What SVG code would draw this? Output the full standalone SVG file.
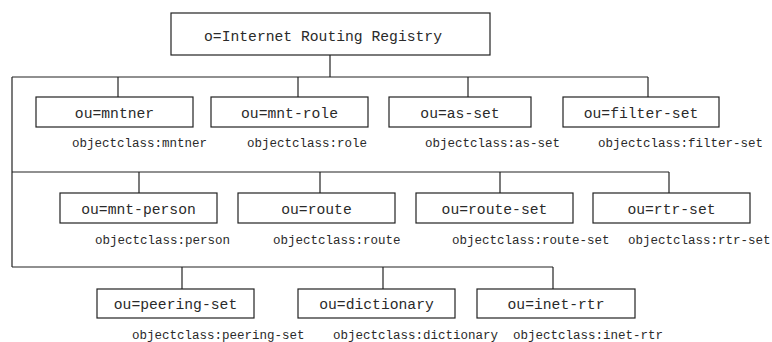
<svg xmlns="http://www.w3.org/2000/svg" width="772" height="342" viewBox="0 0 772 342">
<style>
rect{fill:#fff;stroke:#222;stroke-width:1.2}
.c line,.c polyline{stroke:#222;stroke-width:1.2;fill:none}
.t{font-family:"Liberation Mono","Courier New",monospace;font-size:14.7px;fill:#2a2a2a;text-anchor:middle}
.l{font-family:"Liberation Mono","Courier New",monospace;font-size:12.5px;fill:#2a2a2a}
</style>
<rect x="0" y="0" width="772" height="342" style="stroke:none"/>
<g class="c" id="connectors">
<line x1="330" y1="55" x2="330" y2="77"/>
<line x1="12" y1="77" x2="648" y2="77"/>
<line x1="12" y1="77" x2="12" y2="267"/>
<line x1="118" y1="77" x2="118" y2="97"/>
<line x1="298" y1="77" x2="298" y2="97"/>
<line x1="468" y1="77" x2="468" y2="97"/>
<line x1="648" y1="77" x2="648" y2="97"/>
<line x1="12" y1="172" x2="669" y2="172"/>
<line x1="139" y1="172" x2="139" y2="193"/>
<line x1="320" y1="172" x2="320" y2="193"/>
<line x1="500" y1="172" x2="500" y2="193"/>
<line x1="669" y1="172" x2="669" y2="193"/>
<line x1="12" y1="267" x2="553" y2="267"/>
<line x1="182" y1="267" x2="182" y2="289"/>
<line x1="383" y1="267" x2="383" y2="289"/>
<line x1="553" y1="267" x2="553" y2="289"/>
</g>
<g id="root"><rect x="171" y="13" width="319" height="42"/><text class="t" x="323" y="41">o=Internet Routing Registry</text></g>
<g id="mntner"><rect x="36" y="97" width="157" height="30"/><text class="t" x="114.5" y="117.5">ou=mntner</text><text class="l" x="72" y="147">objectclass:mntner</text></g>
<g id="mnt-role"><rect x="211" y="97" width="157" height="30"/><text class="t" x="289.5" y="117.5">ou=mnt-role</text><text class="l" x="247" y="147">objectclass:role</text></g>
<g id="as-set"><rect x="389" y="97" width="142" height="30"/><text class="t" x="460" y="117.5">ou=as-set</text><text class="l" x="425" y="147">objectclass:as-set</text></g>
<g id="filter-set"><rect x="563" y="97" width="156" height="30"/><text class="t" x="641" y="117.5">ou=filter-set</text><text class="l" x="598" y="147">objectclass:filter-set</text></g>
<g id="mnt-person"><rect x="60" y="193" width="157" height="30"/><text class="t" x="138.5" y="213.5">ou=mnt-person</text><text class="l" x="95" y="244">objectclass:person</text></g>
<g id="route"><rect x="238" y="193" width="157" height="30"/><text class="t" x="316.5" y="213.5">ou=route</text><text class="l" x="273" y="244">objectclass:route</text></g>
<g id="route-set"><rect x="416" y="193" width="157" height="30"/><text class="t" x="494.5" y="213.5">ou=route-set</text><text class="l" x="452" y="244">objectclass:route-set</text></g>
<g id="rtr-set"><rect x="593" y="193" width="157" height="30"/><text class="t" x="671.5" y="213.5">ou=rtr-set</text><text class="l" x="628" y="244">objectclass:rtr-set</text></g>
<g id="peering-set"><rect x="97" y="289" width="157" height="29"/><text class="t" x="175.5" y="309">ou=peering-set</text><text class="l" x="132" y="339">objectclass:peering-set</text></g>
<g id="dictionary"><rect x="298" y="289" width="157" height="29"/><text class="t" x="376.5" y="309">ou=dictionary</text><text class="l" x="333" y="339">objectclass:dictionary</text></g>
<g id="inet-rtr"><rect x="477" y="289" width="158" height="29"/><text class="t" x="556" y="309">ou=inet-rtr</text><text class="l" x="513" y="339">objectclass:inet-rtr</text></g>
</svg>
